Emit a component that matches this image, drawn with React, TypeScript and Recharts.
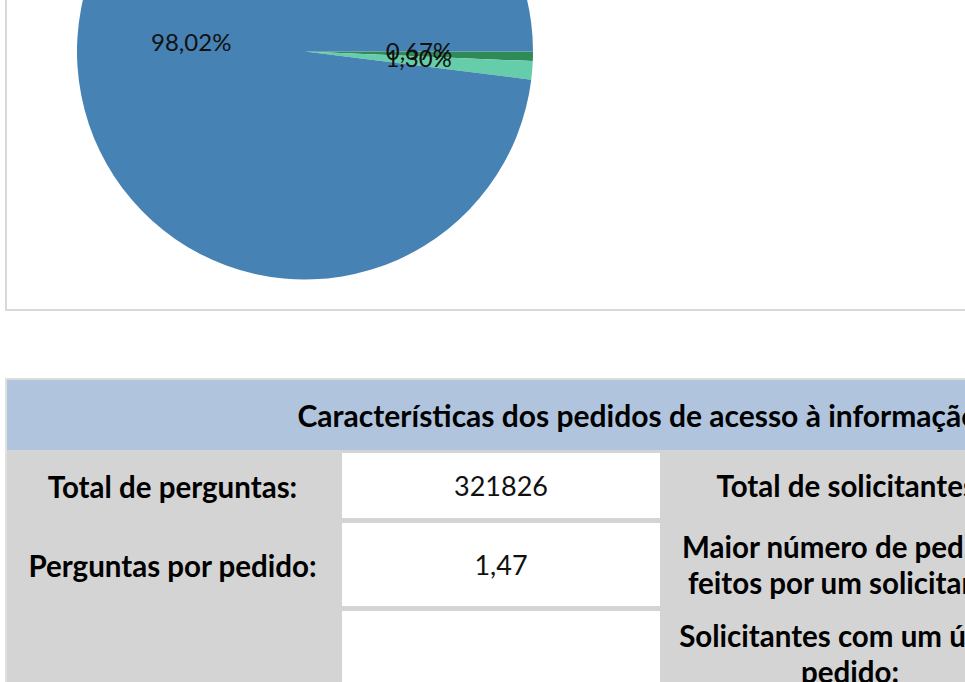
import React from "react";
import { PieChart, Pie, Cell } from "recharts";

// slice data (shares in %), drawn clockwise from 3 o'clock
const sliceNames = ["Categoria C", "Categoria B", "Categoria A"];
const sliceValues = [0.67, 1.3, 98.02];
const sliceColors = ["#2E8B57", "#66CDAA", "#4682B4"];

// table texts
const tableTitle = "Características dos pedidos de acesso à informação";
const leftLabels = ["Total de perguntas:", "Perguntas por pedido:", ""];
const leftValues = ["321826", "1,47", ""];
const rightLabels = [
  "Total de solicitantes:",
  "Maior número de pedidos feitos por um solicitante:",
  "Solicitantes com um único pedido:",
];

const RADIAN = Math.PI / 180;
const FONT = "Lato, 'Open Sans', sans-serif";

const pieData = sliceNames.map((name, i) => ({ name, value: sliceValues[i] }));

const fmt = (v: number) => v.toFixed(2).replace(".", ",") + "%";

const renderLabel = (props: any) => {
  const { cx, cy, midAngle, outerRadius, value } = props;
  const r = outerRadius * 0.5;
  const x = cx + r * Math.cos(-midAngle * RADIAN);
  const y = cy + r * Math.sin(-midAngle * RADIAN) - 3;
  return (
    <text
      x={x}
      y={y}
      textAnchor="middle"
      dominantBaseline="central"
      fill="#111"
      fontSize={24}
      fontFamily={FONT}
    >
      {fmt(value)}
    </text>
  );
};

// row geometry of the table
const rowTops = [452, 522, 610];
const rowHeights = [68, 86, 100];

export default function App() {
  return (
    <div
      style={{
        position: "fixed",
        left: 0,
        top: 0,
        width: 965,
        height: 682,
        overflow: "hidden",
        background: "#fff",
        fontFamily: FONT,
      }}
    >
      {/* chart frame */}
      <div
        style={{
          position: "absolute",
          left: 5,
          top: -300,
          width: 1100,
          height: 607,
          border: "2px solid #d9d9d9",
          background: "#fff",
        }}
      />
      <div style={{ position: "absolute", left: 0, top: -250 }}>
        <PieChart width={965} height={560} margin={{ top: 0, right: 0, bottom: 0, left: 0 }}>
          <Pie
            data={pieData}
            dataKey="value"
            nameKey="name"
            cx={305}
            cy={301.5}
            outerRadius={228}
            startAngle={0}
            endAngle={-360}
            stroke="none"
            label={renderLabel}
            labelLine={false}
            isAnimationActive={false}
          >
            {pieData.map((_, i) => (
              <Cell key={`cell-${i}`} fill={sliceColors[i]} />
            ))}
          </Pie>
        </PieChart>
      </div>

      {/* table */}
      <div
        style={{
          position: "absolute",
          left: 5,
          top: 378,
          width: 1300,
          height: 400,
          borderTop: "2px solid #dcdcdc",
          borderLeft: "2px solid #e0e0e0",
          background: "#d4d4d4",
        }}
      />
      <div
        style={{
          position: "absolute",
          left: 7,
          top: 380,
          width: 1262,
          height: 70,
          background: "#b0c4de",
          display: "flex",
          alignItems: "center",
          justifyContent: "center",
          fontWeight: 700,
          fontSize: 30,
          color: "#000",
          whiteSpace: "nowrap",
        }}
      >
        {tableTitle}
      </div>
      {rowTops.map((top, i) => (
        <React.Fragment key={`row-${i}`}>
          <div
            style={{
              position: "absolute",
              left: 5,
              top,
              width: 335,
              height: rowHeights[i],
              display: "flex",
              alignItems: "center",
              justifyContent: "center",
              fontWeight: 700,
              fontSize: 29.5,
              color: "#000",
              whiteSpace: "nowrap",
            }}
          >
            {leftLabels[i]}
          </div>
          <div
            style={{
              position: "absolute",
              left: 342,
              top: top + 1,
              width: 318,
              height: rowHeights[i] - 3,
              background: "#fff",
              display: "flex",
              alignItems: "center",
              justifyContent: "center",
              fontSize: 27,
              color: "#111",
            }}
          >
            {leftValues[i]}
          </div>
          <div
            style={{
              position: "absolute",
              left: 662,
              top: i === 2 ? top + 8 : top,
              width: 376,
              height: rowHeights[i],
              padding: "0 12px",
              boxSizing: "border-box",
              display: "flex",
              alignItems: i === 2 ? "flex-start" : "center",
              justifyContent: "center",
              textAlign: "center",
              fontWeight: 700,
              fontSize: 29.5,
              lineHeight: "36px",
              color: "#000",
            }}
          >
            {rightLabels[i]}
          </div>
        </React.Fragment>
      ))}
    </div>
  );
}
